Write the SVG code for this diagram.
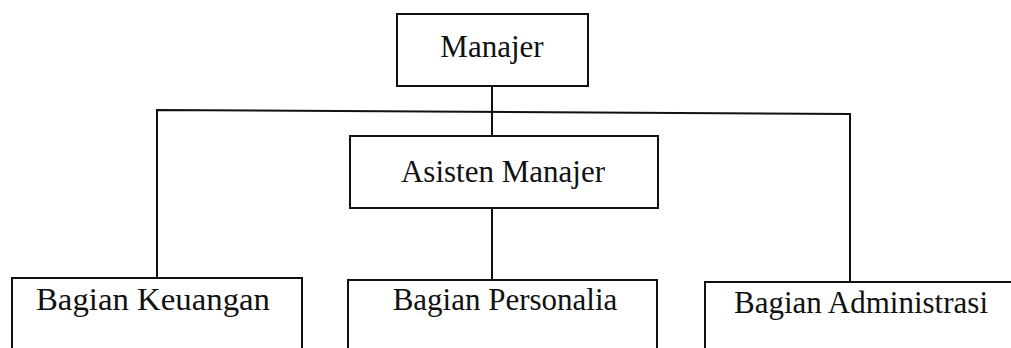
<svg xmlns="http://www.w3.org/2000/svg" width="1011" height="348" viewBox="0 0 1011 348">
<style>
.box{fill:#fff;stroke:#111;stroke-width:2}
.con{fill:none;stroke:#111;stroke-width:2}
.lbl{font-family:"Liberation Serif","Times New Roman",serif;font-size:31px;fill:#111;text-anchor:middle}
</style>
<rect width="1011" height="348" fill="#fff"/>
<g id="connectors">
<line class="con" x1="492" y1="86" x2="492" y2="135"/>
<polyline class="con" points="157,278 157,110 850,114 850,281"/>
<line class="con" x1="492" y1="208" x2="492" y2="279"/>
</g>
<g id="manajer">
<rect class="box" x="397" y="14" width="191" height="72"/>
<text class="lbl" x="492" y="57">Manajer</text>
</g>
<g id="asisten">
<rect class="box" x="350" y="136" width="308" height="72"/>
<text class="lbl" x="503" y="182">Asisten Manajer</text>
</g>
<g id="keuangan">
<rect class="box" x="12" y="278" width="290" height="90"/>
<text class="lbl" x="153" y="310" font-size="32" textLength="234" lengthAdjust="spacingAndGlyphs">Bagian Keuangan</text>
</g>
<g id="personalia">
<rect class="box" x="348" y="280" width="309" height="90"/>
<text class="lbl" x="505" y="310">Bagian Personalia</text>
</g>
<g id="administrasi">
<rect class="box" x="705" y="282" width="330" height="90"/>
<text class="lbl" x="861" y="313">Bagian Administrasi</text>
</g>
</svg>
